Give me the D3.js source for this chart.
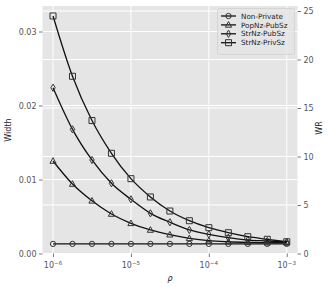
<!DOCTYPE html>
<html><head><meta charset="utf-8">
<script src="https://cdn.jsdelivr.net/npm/d3@7"></script>
<style>body{margin:0;background:#fff}svg{display:block;font-family:"DejaVu Sans",sans-serif}</style>
</head><body><svg id="c" width="332" height="287"></svg>
<script>
const rhoExp = [-6,-5.75,-5.5,-5.25,-5,-4.75,-4.5,-4.25,-4,-3.75,-3.5,-3.25,-3];
const nonPrivate = [0.0013,0.0013,0.0013,0.0013,0.0013,0.0013,0.0013,0.0013,0.0013,0.0013,0.0013,0.0013,0.0013];
const popNzPubSz = [0.0125,0.00939,0.00712,0.00534,0.00408,0.00318,0.00254,0.00205,0.00173,0.00159,0.00151,0.00146,0.00146];
const strNzPubSz = [0.0224,0.01678,0.01264,0.00949,0.00732,0.00543,0.00422,0.00318,0.00259,0.00214,0.00182,0.00169,0.00155];
const strNzPrivSz = [0.0321,0.02395,0.01797,0.01354,0.01011,0.00764,0.00574,0.00443,0.00349,0.00281,0.00227,0.00192,0.00159];
const seriesNames = ["Non-Private","PopNz-PubSz","StrNz-PubSz","StrNz-PrivSz"];
const seriesMarkers = ["circle","triangle","diamond","square"];
const yTicks = [0,0.01,0.02,0.03];
const yTickLabels = ["0.00","0.01","0.02","0.03"];
const wrTicks = [0,5,10,15,20,25];
const xTickExp = [-6,-5,-4,-3];

const series = [nonPrivate,popNzPubSz,strNzPubSz,strNzPrivSz];
const svg = d3.select("#c");
const L=42.5,R=297.5,T=6,B=253.5;
const x = d3.scaleLog().domain([Math.pow(10,-6.135),Math.pow(10,-2.862)]).range([L,R]);
const y = d3.scaleLinear().domain([0,(B-T)/7400]).range([B,T]);
const y2 = d3.scaleLinear().domain([0,(B-T)/9.7]).range([B,T]);

svg.append("rect").attr("x",L).attr("y",T).attr("width",R-L).attr("height",B-T).attr("fill","#e5e5e5");
const g = svg.append("g");
// grids
yTicks.forEach(v=>g.append("line").attr("x1",L).attr("x2",R).attr("y1",y(v)).attr("y2",y(v)).attr("stroke","#fff").attr("stroke-width",1));
wrTicks.forEach(v=>g.append("line").attr("x1",L).attr("x2",R).attr("y1",y2(v)).attr("y2",y2(v)).attr("stroke","#fff").attr("stroke-width",1));
xTickExp.forEach(e=>g.append("line").attr("y1",T).attr("y2",B).attr("x1",x(Math.pow(10,e))).attr("x2",x(Math.pow(10,e))).attr("stroke","#fff").attr("stroke-width",1));

// axes
const tc="#555";
const yAxis = d3.axisLeft(y).tickValues(yTicks).tickFormat((d,i)=>yTickLabels[i]).tickSize(3.5).tickPadding(2.5);
const ya = svg.append("g").attr("transform",`translate(${L},0)`).call(yAxis);
const y2Axis = d3.axisRight(y2).tickValues(wrTicks).tickFormat(d3.format("d")).tickSize(3.5).tickPadding(2.5);
const y2a = svg.append("g").attr("transform",`translate(${R},0)`).call(y2Axis);
const xAxis = d3.axisBottom(x).tickValues(xTickExp.map(e=>Math.pow(10,e))).tickFormat("").tickSize(3.5);
const xa = svg.append("g").attr("transform",`translate(0,${B})`).call(xAxis);
[ya,y2a,xa].forEach(a=>{a.select(".domain").remove();a.selectAll("line").attr("stroke",tc).attr("stroke-width",0.8);a.selectAll("text").attr("fill",tc).style("font-size","8px").style("font-family","DejaVu Sans");});
xTickExp.forEach(e=>{
  const t=svg.append("text").attr("x",x(Math.pow(10,e))).attr("y",268).attr("text-anchor","middle").attr("fill",tc).style("font-size","8px");
  t.append("tspan").text("10");
  t.append("tspan").attr("dy",-3.5).style("font-size","5.6px").text("\u2212"+(-e));
});
svg.append("text").attr("x",170).attr("y",281).attr("text-anchor","middle").style("font-size","8px").attr("fill","#222").style("font-style","italic").text("ρ");
svg.append("text").attr("transform","translate(11,130) rotate(-90)").attr("text-anchor","middle").style("font-size","8px").attr("fill","#222").text("Width");
svg.append("text").attr("transform","translate(322,128) rotate(-90)").attr("text-anchor","middle").style("font-size","8px").attr("fill","#222").text("WR");

function markerPath(type){
  switch(type){
    case "circle": return d3.symbol(d3.symbolCircle,22)();
    case "square": return "M-3,-3H3V3H-3Z";
    case "triangle": return "M0,-3.3L3.1,2.3L-3.1,2.3Z";
    case "diamond": return "M0,-3.6L2.2,0L0,3.6L-2.2,0Z";
  }
}
const line = d3.line().x((d,i)=>x(Math.pow(10,rhoExp[i]))).y(d=>y(d)).curve(d3.curveMonotoneX);
series.forEach((s,k)=>{
  g.append("path").datum(s).attr("d",line).attr("fill","none").attr("stroke","#111").attr("stroke-width",1.3);
  g.selectAll(null).data(s).enter().append("path")
    .attr("transform",(d,i)=>`translate(${x(Math.pow(10,rhoExp[i]))},${y(d)})`)
    .attr("d",markerPath(seriesMarkers[k])).attr("fill","none").attr("stroke","#333").attr("stroke-width",1);
});

// legend
const lg = svg.append("g");
lg.append("rect").attr("x",217.5).attr("y",8.5).attr("width",77).attr("height",46).attr("rx",2).attr("fill","#e5e5e5").attr("stroke","#d0d0d0").attr("stroke-width",0.8).attr("fill-opacity",0.8);
seriesNames.forEach((n,k)=>{
  const yy = 16+k*8.9;
  lg.append("line").attr("x1",221).attr("x2",236).attr("y1",yy).attr("y2",yy).attr("stroke","#111").attr("stroke-width",1.3);
  lg.append("path").attr("transform",`translate(228.5,${yy})`).attr("d",markerPath(seriesMarkers[k])).attr("fill","none").attr("stroke","#333").attr("stroke-width",1);
  lg.append("text").attr("x",241).attr("y",yy+2.6).style("font-size","7.2px").attr("fill","#222").text(n);
});
</script></body></html>
